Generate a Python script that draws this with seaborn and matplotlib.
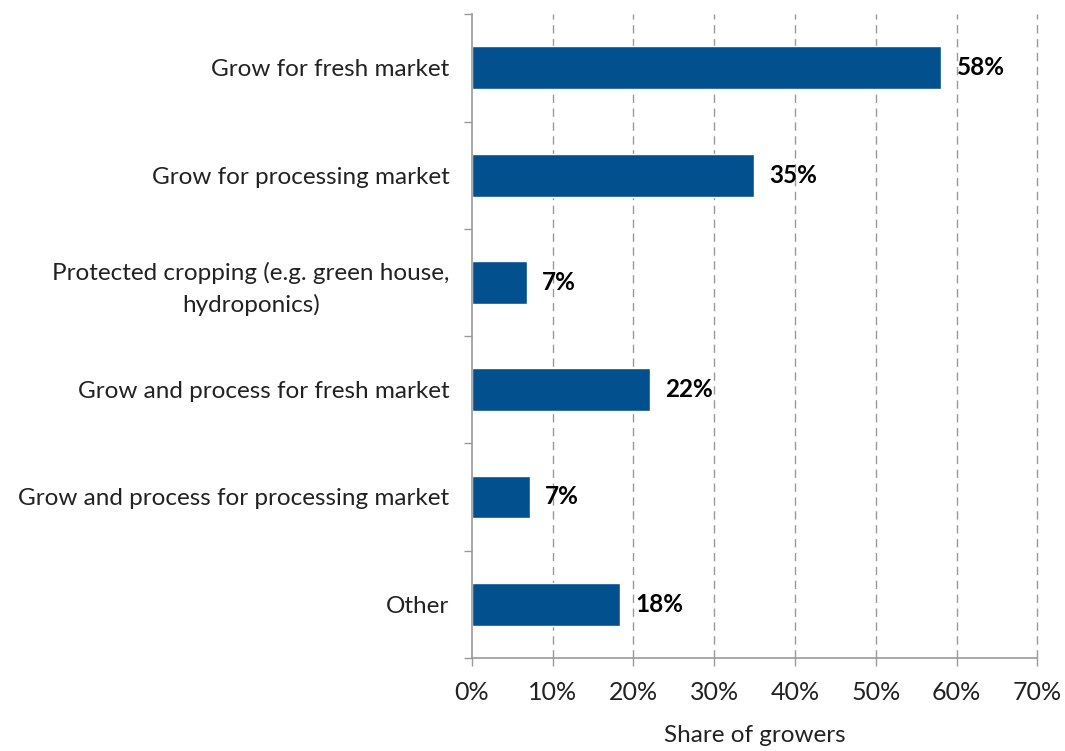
import matplotlib
matplotlib.use("Agg")
import matplotlib.pyplot as plt
import seaborn as sns
import pandas as pd

categories = [
    "Grow for fresh market",
    "Grow for processing market",
    "Protected cropping (e.g. green house,\nhydroponics)",
    "Grow and process for fresh market",
    "Grow and process for processing market",
    "Other",
]
shares = [58.1, 34.9, 6.8, 22.0, 7.2, 18.3]
x_ticks = [0, 10, 20, 30, 40, 50, 60, 70]
x_tick_labels = ["0%", "10%", "20%", "30%", "40%", "50%", "60%", "70%"]

sns.set_theme(style="white")
plt.rcParams["font.family"] = ["Lato", "DejaVu Sans"]

df = pd.DataFrame({"category": categories, "share": shares})

fig = plt.figure(figsize=(10.65, 7.51), dpi=100)
ax = fig.add_axes([0.443, 0.124, 0.531, 0.857])

sns.barplot(data=df, x="share", y="category", color="#02508E",
            width=0.4, ax=ax, saturation=1, orient="h")

ax.set_xlim(0, 70)
ax.set_ylim(len(categories) - 0.5, -0.5)
ax.set_xticks(x_ticks)
ax.set_xticklabels(x_tick_labels, fontsize=18, color="#222222")
ax.set_xlabel("Share of growers", fontsize=17.5, color="#222222", labelpad=15)
ax.set_ylabel("")

# category labels right-aligned, ticks on the band boundaries
ax.set_yticks(range(len(categories)))
ax.set_yticklabels(categories, fontsize=17.5, color="#222222")
for lbl in ax.get_yticklabels():
    lbl.set_horizontalalignment("right")
    lbl.set_multialignment("center")
    lbl.set_linespacing(1.55)
ax.tick_params(axis="y", which="major", length=0, pad=16)
ax.set_yticks([i + 0.5 for i in range(-1, len(categories))], minor=True)
ax.tick_params(axis="y", which="minor", length=6, color="#999999", width=1,
               direction="out", left=True)
ax.tick_params(axis="x", which="major", length=6, color="#999999", width=1,
               direction="out", bottom=True, pad=11)

for x in x_ticks[1:]:
    ax.axvline(x, color="#999999", linestyle=(0, (6, 4)), linewidth=1,
               zorder=0, clip_on=False)

for s in ["top", "right"]:
    ax.spines[s].set_visible(False)
for s in ["left", "bottom"]:
    ax.spines[s].set_color("#999999")
    ax.spines[s].set_linewidth(1.2)

for i, v in enumerate(shares):
    ax.text(v + 1.9, i, f"{round(v)}%", va="center", ha="left",
            fontsize=17.5, fontweight="bold", color="black")

fig.savefig("out.png", dpi=100)
